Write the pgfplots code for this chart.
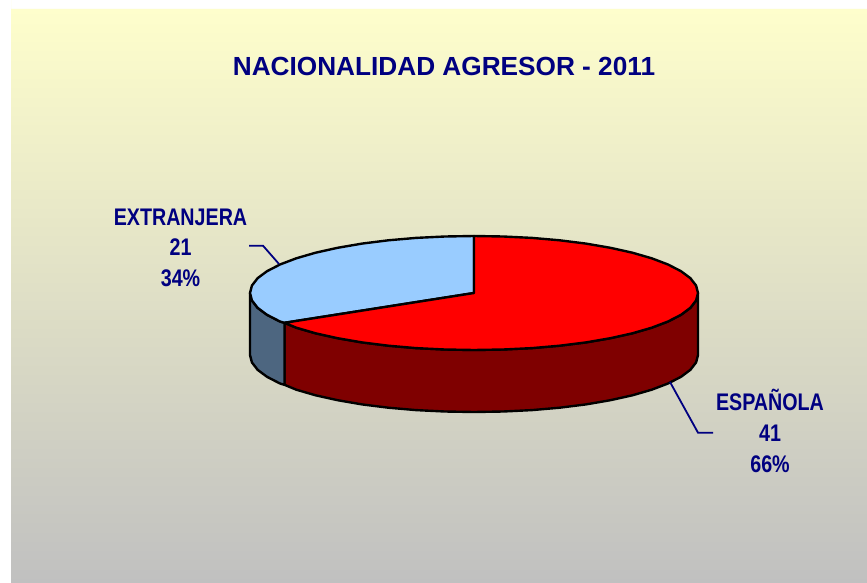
\documentclass[border=0pt]{standalone}
\usepackage{fontspec}
\setmainfont{Liberation Sans}
\newfontfamily\narrow[FakeStretch=0.82]{Liberation Sans}
\usepackage{pgfplots}
\pgfplotsset{compat=1.18}
\definecolor{navy}{HTML}{000080}
\definecolor{bgtop}{HTML}{FFFFCC}
\definecolor{bgbot}{HTML}{C0C0C0}
\definecolor{redtop}{HTML}{FF0000}
\definecolor{redside}{HTML}{7F0000}
\definecolor{bluetop}{HTML}{99CCFF}
\definecolor{blueside}{HTML}{4D6680}
\begin{document}
\begin{tikzpicture}
\begin{axis}[
  scale only axis, width=867bp, height=583bp,
  xmin=0, xmax=867, ymin=0, ymax=583, y dir=reverse,
  hide axis, clip=true, axis on top=false,
]
% page and gradient panel
\addplot[draw=none, fill=white, forget plot] coordinates {(0,0) (867,0) (867,583) (0,583)} \closedcycle;
\addplot[draw=none, top color=bgtop, bottom color=bgbot, shading angle=0, forget plot] coordinates {(11,9) (867,9) (867,583) (11,583)} \closedcycle;

% ESPANOLA 41 (66%), side wall
\addplot[draw=black, line width=2.4pt, line join=round, fill=redside, forget plot] coordinates {
(698,293) (696.1,300.4) (690.4,307.8) (681,314.8) (668,321.5) (651.7,327.7) (632.4,333.3) (610.4,338.2) (586,342.4) (559.7,345.7) (532,348.1) (503.2,349.5)
(474,350) (444.8,349.5) (416,348.1) (388.3,345.7) (362,342.4) (337.6,338.2) (315.6,333.3) (296.3,327.7) (284.5,322.8)
(284.5,384.8) (296.3,389.7) (315.6,395.3) (337.6,400.2) (362,404.4) (388.3,407.7) (416,410.1) (444.8,411.5) (474,412)
(503.2,411.5) (532,410.1) (559.7,407.7) (586,404.4) (610.4,400.2) (632.4,395.3) (651.7,389.7) (668,383.5) (681,376.8) (690.4,369.8) (696.1,362.4) (698,355)
} -- cycle;
% EXTRANJERA 21 (34%), side wall
\addplot[draw=black, line width=2.4pt, line join=round, fill=blueside, forget plot] coordinates {
(284.5,322.8) (280,321.5) (267,314.8) (257.6,307.8) (251.9,300.4) (250,293)
(250,355) (251.9,362.4) (257.6,369.8) (267,376.8) (280,383.5) (284.5,384.8)
} -- cycle;
% EXTRANJERA top
\addplot[draw=black, line width=2.4pt, line join=round, fill=bluetop, forget plot] coordinates {
(474,293) (284.5,322.8) (280,321.5) (267,314.8) (257.6,307.8) (251.9,300.4) (250,293) (251.9,285.6) (257.6,278.2) (267,271.2) (280,264.5) (296.3,258.3) (315.6,252.7) (337.6,247.8) (362,243.6) (388.3,240.3) (416,237.9) (444.8,236.5) (474,236)
} -- cycle;
% ESPANOLA top
\addplot[draw=black, line width=2.4pt, line join=round, fill=redtop, forget plot] coordinates {
(474,293) (474,236) (503.2,236.5) (532,237.9) (559.7,240.3) (586,243.6) (610.4,247.8) (632.4,252.7) (651.7,258.3) (668,264.5) (681,271.2) (690.4,278.2) (696.1,285.6) (698,293)
(696.1,300.4) (690.4,307.8) (681,314.8) (668,321.5) (651.7,327.7) (632.4,333.3) (610.4,338.2) (586,342.4) (559.7,345.7) (532,348.1) (503.2,349.5)
(474,350) (444.8,349.5) (416,348.1) (388.3,345.7) (362,342.4) (337.6,338.2) (315.6,333.3) (296.3,327.7) (284.5,322.8)
} -- cycle;
% leaders
\addplot[draw=navy, line width=1.8pt, forget plot] coordinates {(249,245.7) (263,245.7) (279,264)};
\addplot[draw=navy, line width=1.8pt, forget plot] coordinates {(670,382) (698,432.7) (713,432.7)};

\node[text=navy, anchor=base, font=\fontsize{26.2bp}{28bp}\selectfont\bfseries] at (axis cs:444,76) {NACIONALIDAD AGRESOR - 2011};
\node[text=navy, anchor=base, font=\fontsize{24bp}{26bp}\narrow\bfseries] at (axis cs:180.5,225) {EXTRANJERA};
\node[text=navy, anchor=base, font=\fontsize{24bp}{26bp}\narrow\bfseries] at (axis cs:180.5,255) {21};
\node[text=navy, anchor=base, font=\fontsize{24bp}{26bp}\narrow\bfseries] at (axis cs:180.5,286) {34\%};
\node[text=navy, anchor=base, font=\fontsize{24bp}{26bp}\narrow\bfseries] at (axis cs:770,410) {ESPAÑOLA};
\node[text=navy, anchor=base, font=\fontsize{24bp}{26bp}\narrow\bfseries] at (axis cs:770,441) {41};
\node[text=navy, anchor=base, font=\fontsize{24bp}{26bp}\narrow\bfseries] at (axis cs:770,472) {66\%};
\end{axis}
\end{tikzpicture}
\end{document}
